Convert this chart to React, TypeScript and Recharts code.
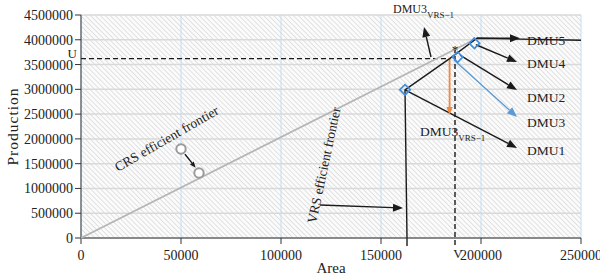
import { ComposedChart, Scatter, XAxis, YAxis, CartesianGrid, ReferenceLine, ReferenceDot } from 'recharts';

const FONT = '"Liberation Serif", "Times New Roman", serif';

const xTicks = [0, 50000, 100000, 150000, 200000, 250000];
const yTicks = [0, 500000, 1000000, 1500000, 2000000, 2500000, 3000000, 3500000, 4000000, 4500000];

// frontiers
const crsFrontier = [
  { x: 0, y: 0 },
  { x: 198000, y: 4030000 },
];
const vrsFrontier = [
  { x: 163000, y: 0 },
  { x: 162000, y: 2990000 },
  { x: 184300, y: 3620000 },
  { x: 198000, y: 4030000 },
  { x: 250000, y: 3990000 },
];

const dmuPoints = [
  { name: 'DMU1', x: 162000, y: 2990000 },
  { name: 'DMU2', x: 188300, y: 3650000 },
  { name: 'DMU4', x: 196700, y: 3930000 },
];
const crsSample = [
  { x: 50000, y: 1796000 },
  { x: 59000, y: 1311000 },
];

const uLevel = 3620000;
const vArea = 187000;
const dmu3Target = { x: 184300, y: 3620000 };
const dmu3 = { x: 184300, y: 2480000 };

// annotation arrows (data units)
const arrows = [
  { x1: 198000, y1: 4030000, x2: 219500, y2: 4030000, color: '#1a1a1a' },
  { x1: 197500, y1: 3900000, x2: 218000, y2: 3551000, color: '#1a1a1a' },
  { x1: 189500, y1: 3692000, x2: 218000, y2: 2986000, color: '#1a1a1a' },
  { x1: 186500, y1: 3590000, x2: 218000, y2: 2441000, color: '#5b9bd5' },
  { x1: 162000, y1: 2990000, x2: 218000, y2: 1816000, color: '#1a1a1a' },
  { x1: 119500, y1: 666000, x2: 161000, y2: 605000, color: '#1a1a1a' },
  { x1: 52000, y1: 1690000, x2: 57300, y2: 1420000, color: '#1a1a1a', head: 6 },
  { x1: 175000, y1: 3652000, x2: 171500, y2: 4257000, color: '#1a1a1a' },
  { x1: dmu3Target.x, y1: dmu3Target.y, x2: dmu3.x, y2: dmu3.y, color: '#f0883e', head: 8, width: 1.8 },
];

// text notes (baseline anchor, data units)
const notes = [
  { text: 'DMU5', x: 223000, y: 3904000, size: 13.5 },
  { text: 'DMU4', x: 223000, y: 3440000, size: 13.5 },
  { text: 'DMU2', x: 223000, y: 2754000, size: 13.5 },
  { text: 'DMU3', x: 223000, y: 2250000, size: 13.5 },
  { text: 'DMU1', x: 223000, y: 1665000, size: 13.5 },
  { text: 'DMU3', sub: 'VRS−1', x: 169500, y: 2058000, size: 13.5 },
  { text: 'DMU3', sub: 'VRS−1', x: 156000, y: 4540000, size: 12 },
  { text: 'CRS efficient frontier', x: 18500, y: 1332000, size: 13.5, rotate: -30 },
  { text: 'VRS efficient frontier', x: 117500, y: 282000, size: 13.5, rotate: -78 },
  { text: '*', x: vArea, y: 3723000, size: 13, anchor: 'middle' },
  { text: 'U', x: 0, y: uLevel, size: 13, anchor: 'end', dx: -4, dy: -1 },
  { text: 'V', x: vArea, y: 0, size: 13, anchor: 'middle', dx: 3, dy: 20 },
];

function arrowShape(color: string, head = 10, width = 1.4) {
  return (p: any) => {
    const { x1, y1, x2, y2 } = p;
    const a = Math.atan2(y2 - y1, x2 - x1);
    const bx = x2 - head * Math.cos(a);
    const by = y2 - head * Math.sin(a);
    const w = head * 0.4;
    const pts = `${x2},${y2} ${bx + w * Math.sin(a)},${by - w * Math.cos(a)} ${bx - w * Math.sin(a)},${by + w * Math.cos(a)}`;
    return (
      <g>
        <line x1={x1} y1={y1} x2={bx} y2={by} stroke={color} strokeWidth={width} />
        <polygon points={pts} fill={color} />
      </g>
    );
  };
}

function noteShape(n: any) {
  return (p: any) => {
    const x = p.cx + (n.dx || 0);
    const y = p.cy + (n.dy || 0);
    return (
      <text
        x={x}
        y={y}
        fontSize={n.size}
        fontFamily={FONT}
        fill="#222"
        textAnchor={n.anchor || 'start'}
        transform={n.rotate ? `rotate(${n.rotate}, ${x}, ${y})` : undefined}
      >
        {n.text}
        {n.sub && (
          <tspan fontSize={9} dy={5}>
            {n.sub}
          </tspan>
        )}
      </text>
    );
  };
}

const diamond = (p: any) => (
  <rect
    x={p.cx - 3.7}
    y={p.cy - 3.7}
    width={7.4}
    height={7.4}
    fill="none"
    stroke="#3f8fdc"
    strokeWidth={1.7}
    transform={`rotate(45, ${p.cx}, ${p.cy})`}
  />
);

const ring = (p: any) => <circle cx={p.cx} cy={p.cy} r={4.7} fill="#fff" stroke="#9a9a9a" strokeWidth={2} />;

export default function App() {
  return (
    <div style={{ position: 'absolute', left: 0, top: 0, fontFamily: FONT }}>
      <ComposedChart width={600} height={278} margin={{ top: 15, right: 19, bottom: 0, left: 0 }}>
        <defs>
          <pattern id="hatch" width="3.5" height="3.5" patternUnits="userSpaceOnUse" patternTransform="rotate(-45)">
            <rect width="3.5" height="3.5" fill="#fbfbfb" />
            <line x1="0" y1="0" x2="0" y2="3.5" stroke="#cdcdcd" strokeWidth={1.1} />
          </pattern>
        </defs>
        <CartesianGrid vertical={false} stroke="#d9d9d9" strokeWidth={1.5} fill="url(#hatch)" fillOpacity={1} />
        <CartesianGrid horizontal={false} stroke="#c5dcf1" strokeWidth={1} />
        <XAxis
          type="number"
          dataKey="x"
          domain={[0, 250000]}
          ticks={xTicks}
          interval={0}
          height={40}
          stroke="#333"
          tickSize={6}
          tickMargin={6}
          tick={{ fill: '#222', fontSize: 14, fontFamily: FONT }}
          label={{ value: 'Area', position: 'insideBottom', offset: 5, fill: '#222', fontSize: 15, fontFamily: FONT }}
        />
        <YAxis
          type="number"
          dataKey="y"
          domain={[0, 4500000]}
          ticks={yTicks}
          interval={0}
          width={81}
          stroke="#333"
          tickSize={6}
          tickMargin={2}
          tick={{ fill: '#222', fontSize: 14, fontFamily: FONT }}
          label={{
            value: 'Production',
            angle: -90,
            position: 'insideLeft',
            offset: 12,
            fill: '#222',
            fontSize: 15.5,
            fontFamily: FONT,
            style: { textAnchor: 'middle', letterSpacing: 1 },
          }}
        />
        <Scatter data={crsFrontier} fill="none" line={{ stroke: '#b5b5b5', strokeWidth: 1.6 }} shape={() => <g />} isAnimationActive={false} />
        <Scatter data={vrsFrontier} fill="none" line={{ stroke: '#1a1a1a', strokeWidth: 1.4 }} shape={() => <g />} isAnimationActive={false} />
        <ReferenceLine
          segment={[{ x: 163000, y: 0 }, { x: 163000, y: -160000 }]}
          stroke="#1a1a1a"
          strokeWidth={1.4}
          ifOverflow="visible"
        />
        <ReferenceLine
          segment={[{ x: 0, y: uLevel }, { x: dmu3Target.x, y: uLevel }]}
          stroke="#1a1a1a"
          strokeWidth={1.4}
          strokeDasharray="5 3"
          ifOverflow="visible"
        />
        <ReferenceLine
          segment={[{ x: vArea, y: -140000 }, { x: vArea, y: 3800000 }]}
          stroke="#1a1a1a"
          strokeWidth={1.4}
          strokeDasharray="5 3"
          ifOverflow="visible"
        />
        {arrows.map((a, i) => (
          <ReferenceLine
            key={'a' + i}
            segment={[{ x: a.x1, y: a.y1 }, { x: a.x2, y: a.y2 }]}
            ifOverflow="visible"
            shape={arrowShape(a.color, a.head, a.width)}
          />
        ))}
        <Scatter data={dmuPoints} shape={diamond} isAnimationActive={false} />
        <Scatter data={crsSample} shape={ring} isAnimationActive={false} />
        {notes.map((n, i) => (
          <ReferenceDot key={'n' + i} x={n.x} y={n.y} r={1} ifOverflow="visible" shape={noteShape(n)} />
        ))}
      </ComposedChart>
    </div>
  );
}
